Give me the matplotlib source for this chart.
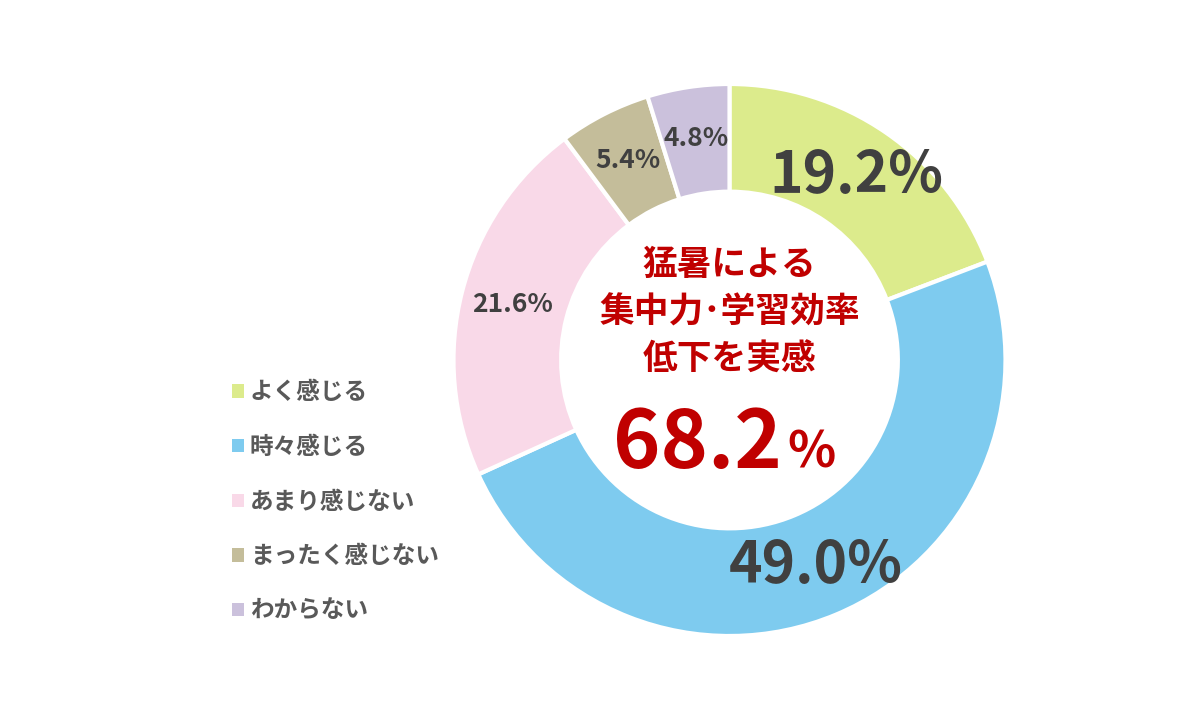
import matplotlib.pyplot as plt
from matplotlib.patches import Patch

plt.rcParams['font.family'] = ['Noto Sans CJK JP', 'DejaVu Sans']

labels = ['よく感じる', '時々感じる', 'あまり感じない', 'まったく感じない', 'わからない']
values = [19.2, 49.0, 21.6, 5.4, 4.8]
colors = ['#dceb8c', '#7ecbef', '#f9d9e8', '#c4bd9a', '#cbc1dc']
pct_sizes = [41, 41, 19, 19, 19]
center_lines = ['猛暑による', '集中力･学習効率', '低下を実感']
total_num = '68.2'

fig = plt.figure(figsize=(12, 7.2), dpi=100)
ax = fig.add_axes([453 / 1200, 84 / 720, 553 / 1200, 552 / 720])

wedges, texts, autotexts = ax.pie(
    values, colors=colors, startangle=90, counterclock=False,
    autopct='%.1f%%', pctdistance=0.81,
    wedgeprops=dict(width=0.39, edgecolor='white', linewidth=3))
for t, s in zip(autotexts, pct_sizes):
    t.set_fontsize(s)
    t.set_fontweight('bold')
    t.set_color('#404040')
ax.set_xlim(-1, 1)
ax.set_ylim(-1, 1)
ax.set_aspect('equal')

red = '#c00000'
ax.text(0, 0.175, '\n'.join(center_lines), ha='center', va='center',
        fontsize=25, fontweight='bold', color=red, linespacing=1.45)
ax.text(0.19, -0.39, total_num, ha='right', va='baseline',
        fontsize=58, fontweight='bold', color=red)
ax.text(0.21, -0.39, '%', ha='left', va='baseline',
        fontsize=36, fontweight='bold', color=red)

handles = [Patch(facecolor=c, edgecolor='none') for c in colors]
leg = fig.legend(handles, labels, loc='upper left',
                 bbox_to_anchor=(211 / 1200, 1 - 359 / 720),
                 frameon=False, fontsize=17, labelspacing=1.3,
                 handlelength=0.5, handleheight=0.5, handletextpad=0.25)
for t in leg.get_texts():
    t.set_color('#595959')
    t.set_fontweight('bold')

fig.savefig('out.png', dpi=100, facecolor='white')
